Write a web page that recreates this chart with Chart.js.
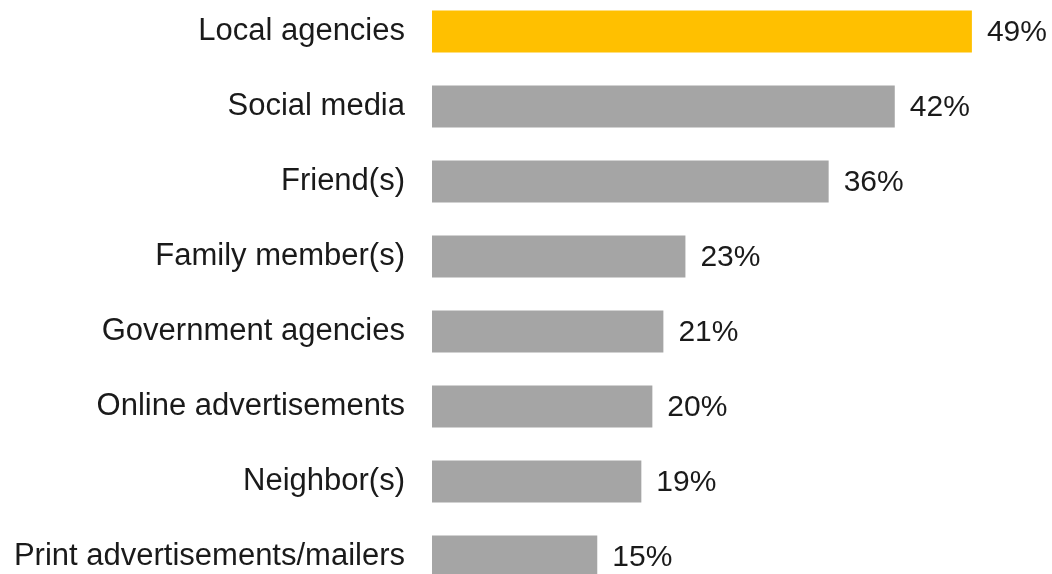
<!DOCTYPE html>
<html lang="en">
<head>
  <meta charset="UTF-8">
  <title>Sources of information</title>
  <script src="https://cdn.jsdelivr.net/npm/chart.js"></script>
  <style>
    html, body { margin: 0; padding: 0; background: #fff; overflow: hidden; }
    #wrap { position: absolute; left: 0; top: -6px; width: 1052px; height: 600px; }
  </style>
</head>
<body>

<div id="wrap"><canvas id="chart"></canvas></div>

<script>
const categories = [
  'Local agencies',
  'Social media',
  'Friend(s)',
  'Family member(s)',
  'Government agencies',
  'Online advertisements',
  'Neighbor(s)',
  'Print advertisements/mailers'
];
const shares = [49, 42, 36, 23, 21, 20, 19, 15];
const barColors = shares.map((v, i) => i === 0 ? '#FFC000' : '#A5A5A5');

const fontFamily = '"Liberation Sans", Arial, sans-serif';

// write "NN%" just past the end of each bar
const valueLabels = {
  id: 'valueLabels',
  afterDatasetsDraw(chart) {
    const ctx = chart.ctx;
    const meta = chart.getDatasetMeta(0);
    ctx.save();
    ctx.font = '30px ' + fontFamily;
    ctx.fillStyle = '#1a1a1a';
    ctx.textAlign = 'left';
    ctx.textBaseline = 'middle';
    meta.data.forEach((bar, i) => {
      ctx.fillText(shares[i] + '%', bar.x + 15, bar.y + 1);
    });
    ctx.restore();
  }
};

new Chart(document.getElementById('chart'), {
  type: 'bar',
  data: {
    labels: categories,
    datasets: [{
      data: shares,
      backgroundColor: barColors,
      borderWidth: 0,
      barPercentage: 0.56,
      categoryPercentage: 1
    }]
  },
  options: {
    indexAxis: 'y',
    responsive: true,
    maintainAspectRatio: false,
    animation: false,
    layout: { padding: { top: 0, bottom: 0, left: 0, right: 14 } },
    plugins: {
      legend: { display: false },
      tooltip: { enabled: false }
    },
    scales: {
      x: { display: false, min: 0, max: 55 },
      y: {
        afterFit(scale) {
          scale.width = 432;
          scale.paddingTop = 0;
          scale.paddingBottom = 0;
        },
        grid: { display: false, drawTicks: false },
        border: { display: false },
        ticks: {
          padding: 27,
          color: '#1a1a1a',
          font: { family: fontFamily, size: 31 }
        }
      }
    }
  },
  plugins: [valueLabels]
});
</script>

</body>
</html>
